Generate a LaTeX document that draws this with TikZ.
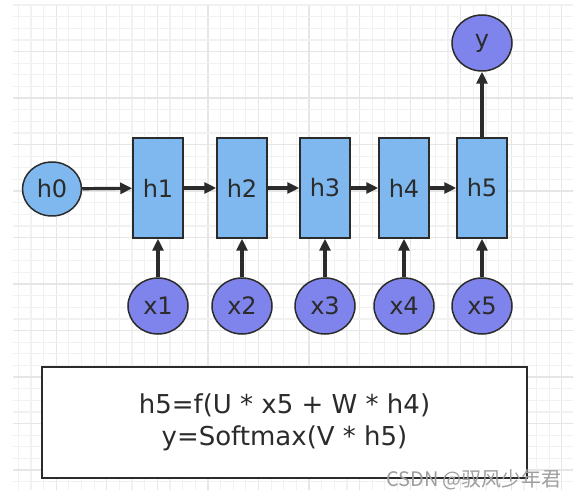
\documentclass[tikz,border=0pt]{standalone}
\usepackage{fontspec}
\setmainfont{DejaVu Sans}
\newfontfamily\cjkfont{Noto Sans CJK SC}
\usetikzlibrary{shapes.geometric,arrows.meta}
\definecolor{hblue}{HTML}{7EB8EE}
\definecolor{xpurple}{HTML}{7E84EB}
\definecolor{edgegray}{HTML}{2B2B2B}
\definecolor{gridminor}{HTML}{F1F1F1}
\definecolor{gridmajor}{HTML}{E6E6E6}

\begin{document}
\begin{tikzpicture}[x=1pt, y=-1pt,
  every node/.style={font=\fontsize{24}{28}\selectfont, text=edgegray},
  cell/.style={draw=edgegray, line width=1.5pt, fill=hblue, minimum width=50pt, minimum height=100pt},
  state/.style={ellipse, draw=edgegray, line width=1.5pt, fill=hblue, minimum width=59pt, minimum height=54pt, inner sep=0pt},
  io/.style={state, fill=xpurple, minimum width=60pt, minimum height=56pt},
  link/.style={-{Triangle[length=12pt,width=11pt]}, line width=3.2pt, draw=edgegray}]
  \useasboundingbox (0,0) rectangle (582,500);
  \fill[white] (0,0) rectangle (582,500);
  % grid
  \foreach \k in {0,...,43} \draw[gridminor, line width=1.2pt] (18.3+\k*12.64,5) -- ++(0,485);
  \foreach \k in {3,7,...,43} \draw[gridmajor, line width=1.2pt] (18.3+\k*12.64,5) -- ++(0,485);
  \draw[gridminor, line width=1.2pt] (13,5) -- ++(560,0);
  \foreach \k in {0,...,40} \draw[gridminor, line width=1.2pt] (13,16.7+\k*11.625) -- ++(560,0);
  \foreach \k in {3,7,...,39} \draw[gridmajor, line width=1.2pt] (13,16.7+\k*11.625) -- ++(560,0);

  \node[state] (h0) at (52,189) {h0};
  \foreach \i/\x in {1/158,2/242,3/325,4/404,5/482} {
    \node[cell] (h\i) at (\x,188) {h\i};
    \node[io] (x\i) at (\x,306) {x\i};
    \draw[link] (x\i) -- (h\i);
  }
  \node[io] (y) at (482,43) {y};
  \draw[link] (h0) -- (h1);
  \foreach \a/\b in {1/2,2/3,3/4,4/5} \draw[link] (h\a) -- (h\b);
  \draw[link] (h5) -- (y);

  \node[draw=edgegray, line width=1.5pt, fill=white, minimum width=485pt, minimum height=111pt,
    align=center, font=\fontsize{26}{32}\selectfont] (formula) at (284.5,422.5)
    {h5=f(U * x5 + W * h4)\\y=Softmax(V * h5)};
  \node[font=\cjkfont\fontsize{20}{24}\selectfont, text=black!38] (mark) at (474,480) {CSDN @驭风少年君};
\end{tikzpicture}
\end{document}
